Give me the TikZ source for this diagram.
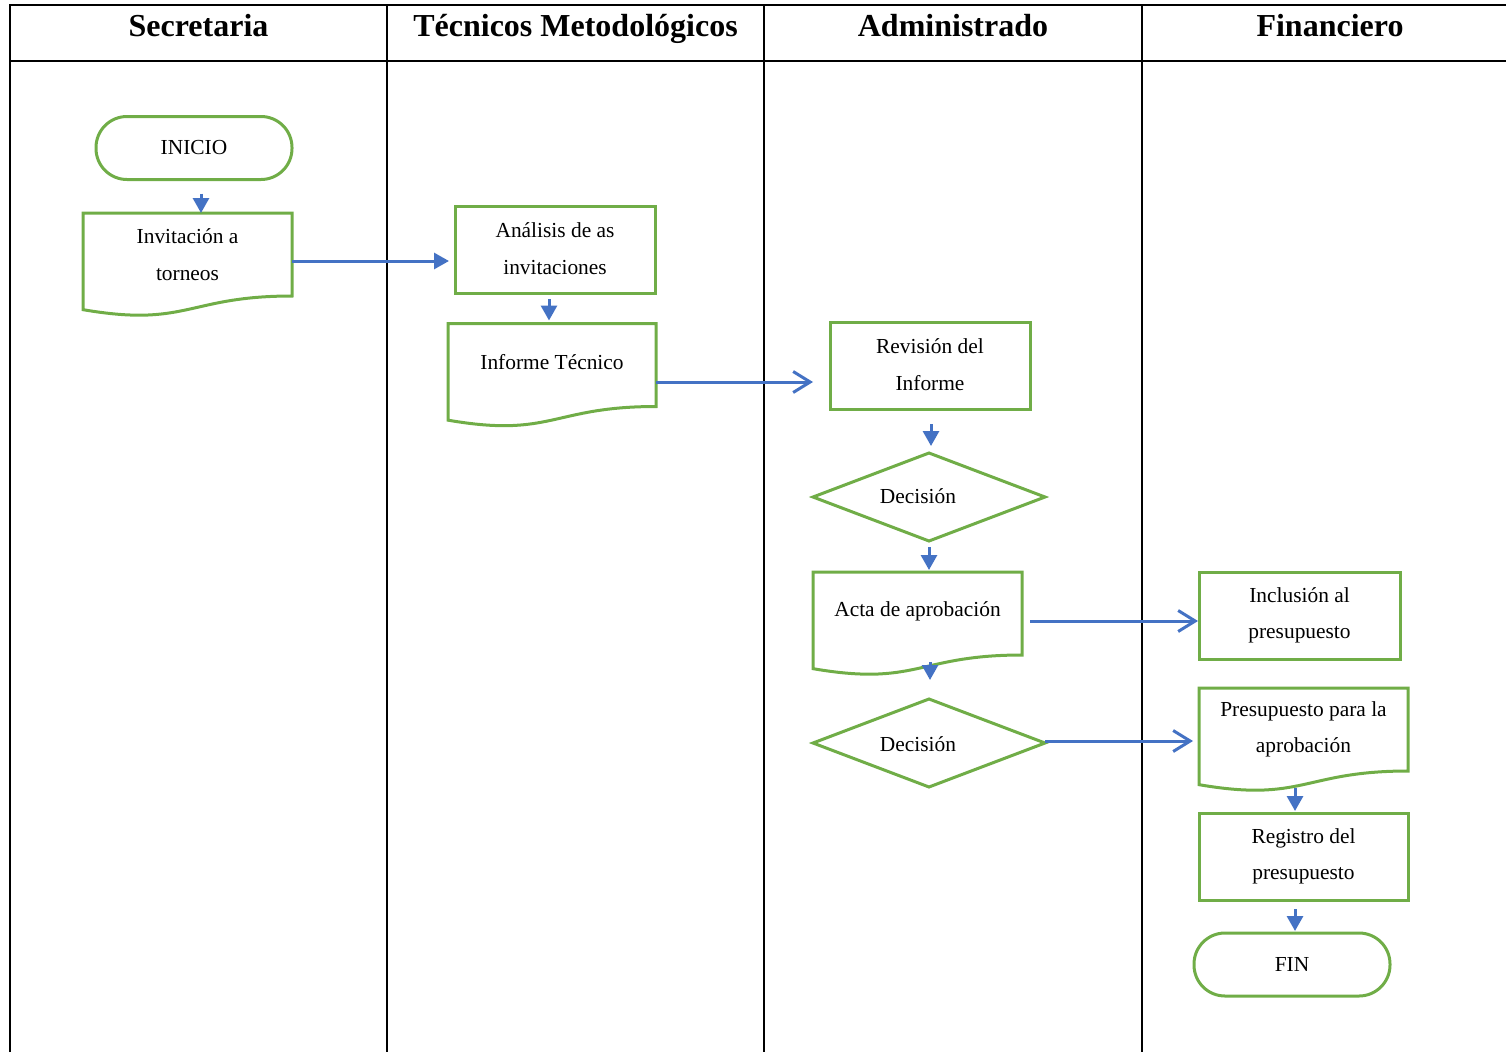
\documentclass[tikz,border=0pt]{standalone}
\usepackage{fontspec}
\setmainfont{Liberation Serif}
\usetikzlibrary{arrows.meta,shapes.geometric,calc}
\definecolor{boxgreen}{HTML}{70AD47}
\definecolor{flowblue}{HTML}{4472C4}

% Outline of a flowchart "document" symbol around the named node:
% straight top and sides, wavy bottom edge.
\newcommand\docoutline[1]{%
  \draw[shapeline] let \p1=(#1.north west), \p2=(#1.south east) in
    (\p1) -- (\x2,\y1) -- (\p2)
    .. controls ({0.5*\x1+0.5*\x2},\y2) and ({0.5*\x1+0.5*\x2},{\y2-0.38103*(\y1-\y2)})
    .. (\x1,{\y2-0.16454*(\y1-\y2)}) -- cycle;}

\begin{document}
\begin{tikzpicture}[x=1pt,y=-1pt,
  lane/.style={line width=2.8pt,black},
  lanetitle/.style={font=\fontsize{32}{36}\selectfont\bfseries, anchor=base, inner sep=0pt},
  shapeline/.style={draw=boxgreen,line width=3pt},
  boxtext/.style={font=\fontsize{21.4}{36.5}\selectfont, align=center, inner sep=0pt, outer sep=0pt},
  procbox/.style={boxtext, shapeline, rectangle, minimum height=87pt},
  docbox/.style={boxtext, rectangle, minimum height=83pt},
  term/.style={boxtext, shapeline, rectangle, rounded corners=31pt, minimum width=196pt, minimum height=63pt},
  decision/.style={shapeline, diamond, inner sep=0pt, outer sep=0pt, minimum width=232pt, minimum height=88pt},
  flow/.style={draw=flowblue, line width=3pt, -{Triangle[length=15pt,width=16pt]}},
  openflow/.style={draw=flowblue, line width=3pt, -{Straight Barb[length=17pt,width=21pt,line width=3pt]}}
]
\useasboundingbox (0,0) rectangle (1506,1052);

% swimlane table
\draw[lane] (10,1052) -- (10,5) -- (1506,5);
\draw[lane] (10,61) -- (1506,61);
\draw[lane] (387,5) -- (387,1052);
\draw[lane] (764,5) -- (764,1052);
\draw[lane] (1142,5) -- (1142,1052);

\node[lanetitle] (hsec) at (198.5,36) {Secretaria};
\node[lanetitle] (htec) at (575.5,36) {Técnicos Metodológicos};
\node[lanetitle] (hadm) at (953,36) {Administrado};
\node[lanetitle] (hfin) at (1330,36) {Financiero};

% Secretaria
\node[term] (inicio) at (194,148) {INICIO};
\node[docbox, minimum width=209pt] (inv) at (187.5,254.5) {Invitación a\\torneos};
\docoutline{inv}

% Técnicos Metodológicos
\node[procbox, minimum width=200pt] (ana) at (555,249.5) {\raisebox{2pt}{Análisis de as}\\\raisebox{2pt}{invitaciones}};
\node[docbox, minimum width=208pt] (inf) at (552,365) {\raisebox{6pt}{Informe Técnico}};
\docoutline{inf}

% Administrado
\node[procbox, minimum width=200pt] (rev) at (930,365.5) {\raisebox{2pt}{Revisión del}\\\raisebox{2pt}{Informe}};
\node[decision, label={[boxtext,xshift=-11pt,yshift=1pt]center:Decisión}] (dec1) at (929,497) {};
\node[docbox, minimum width=209pt] (acta) at (917.5,613.5) {\raisebox{8pt}{Acta de aprobación}};
\docoutline{acta}
\node[decision, label={[boxtext,xshift=-11pt,yshift=-1pt]center:Decisión}] (dec2) at (929,743) {};

% Financiero
\node[procbox, minimum width=201pt] (inc) at (1299.5,615.5) {Inclusión al\\presupuesto};
\node[docbox, minimum width=209pt] (pres) at (1303.5,729.5) {\raisebox{-2pt}{Presupuesto para la}\\\raisebox{-2pt}{aprobación}};
\docoutline{pres}
\node[procbox, minimum width=209pt] (reg) at (1303.5,856.5) {Registro del\\presupuesto};
\node[term] (fin) at (1292,964.5) {FIN};

% connectors
\draw[flow] ([shift={(7,14)}]inicio.south) coordinate (c1) -- (c1 |- inv.north);
\draw[flow, shorten >=6pt] ([shift={(0,6.5)}]inv.east) coordinate (c2) -- (c2 -| ana.west);
\draw[flow, shorten >=3pt] ([shift={(-6,6)}]ana.south) coordinate (c3) -- (c3 |- inf.north);
\draw[openflow, shorten >=17pt] ([shift={(0,17)}]inf.east) coordinate (c4) -- (c4 -| rev.west);
\draw[flow, shorten >=7pt] ([shift={(1,15)}]rev.south) coordinate (c5) -- (c5 |- dec1.north);
\draw[flow, shorten >=2pt] ([shift={(0,6)}]dec1.south) coordinate (c6) -- (c6 |- acta.north);
\draw[openflow, shorten >=1pt] ([shift={(8,7.5)}]acta.east) coordinate (c7) -- (c7 -| inc.west);
\draw[flow, shorten >=19pt] ([shift={(12.5,7)}]acta.south) coordinate (c8) -- (c8 |- dec2.north);
\draw[openflow, shorten >=6pt] ([shift={(0,-2)}]dec2.east) coordinate (c9) -- (c9 -| pres.west);
\draw[flow, shorten >=2pt] ([shift={(-8.5,17)}]pres.south) coordinate (c10) -- (c10 |- reg.north);
\draw[flow, shorten >=2pt] ([shift={(-8.5,9)}]reg.south) coordinate (c11) -- (c11 |- fin.north);
\end{tikzpicture}
\end{document}
